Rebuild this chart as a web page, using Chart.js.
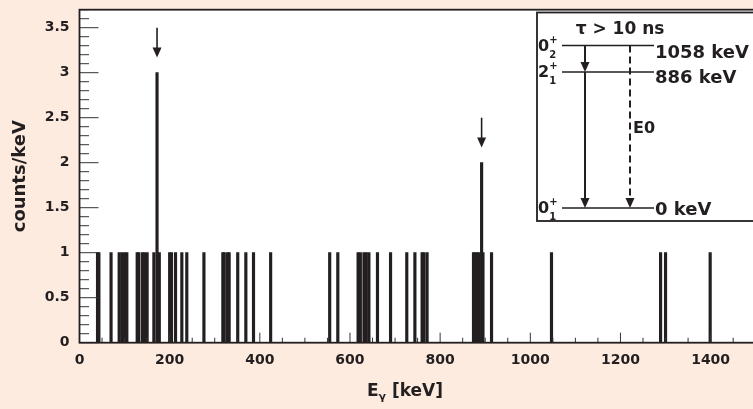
<!DOCTYPE html>
<html lang="en">
<head>
<meta charset="UTF-8">
<title>Gamma-ray spectrum</title>
<script src="https://cdn.jsdelivr.net/npm/chart.js"></script>
<style>
  html, body { margin: 0; padding: 0; background: #fdebdf; overflow: hidden; }
  #wrap { width: 753px; height: 409px; overflow: hidden; }
  canvas { display: block; }
</style>
</head>
<body>
<div id="wrap"><canvas id="spec" width="757" height="409"></canvas></div>
<script>
  // single events, 1 keV bins
  const energies = [40, 43, 70, 88, 94, 100, 105, 128, 131, 139, 144, 150, 165, 172, 177,
    200, 204, 213, 227, 238, 276, 318, 321, 328, 332, 351, 369, 386, 424,
    555, 573, 618, 623, 631, 636, 642, 661, 690, 726, 744, 760, 764, 771,
    874, 877, 882, 886, 892, 895, 914, 1047, 1289, 1300, 1399];
  const counts = energies.map(e => e === 172 ? 3 : e === 892 ? 2 : 1);
  // transitions marked with an arrow
  const markedPeaks = [172, 892];

  const xMajor = [0, 200, 400, 600, 800, 1000, 1200, 1400];
  const yMajor = [0, 0.5, 1, 1.5, 2, 2.5, 3, 3.5];

  // level scheme for the inset
  const levels = [
    { spin: '0', idx: '2', energy: 1058, label: '1058 keV', dy: 12 },
    { spin: '2', idx: '1', energy: 886, label: '886 keV', dy: 11 },
    { spin: '0', idx: '1', energy: 0, label: '0 keV', dy: 7 }
  ];

  const ink = '#231f20';
  const family = 'DejaVu Sans';
  const bold = size => `bold ${size}px "${family}"`;

  function seg(ctx, x1, y1, x2, y2) {
    ctx.beginPath(); ctx.moveTo(x1, y1); ctx.lineTo(x2, y2); ctx.stroke();
  }
  function head(ctx, x, tipY, w, h) {
    ctx.beginPath();
    ctx.moveTo(x, tipY);
    ctx.lineTo(x - w / 2, tipY - h);
    ctx.lineTo(x + w / 2, tipY - h);
    ctx.closePath();
    ctx.fill();
  }

  const paper = {
    id: 'paper',
    beforeDraw(chart) {
      const { ctx, chartArea: a } = chart;
      ctx.save();
      ctx.fillStyle = '#fdebdf';
      ctx.fillRect(0, 0, chart.width, chart.height);
      ctx.fillStyle = '#ffffff';
      ctx.fillRect(a.left, a.top, a.right - a.left, a.bottom - a.top);
      ctx.restore();
    },
    afterDraw(chart) {
      // x-axis title with subscript
      const ctx = chart.ctx;
      ctx.save();
      ctx.fillStyle = ink;
      ctx.textBaseline = 'alphabetic';
      const big = bold(17), small = bold(11);
      ctx.font = big; const wE = ctx.measureText('E').width;
      const wR = ctx.measureText(' [keV]').width;
      ctx.font = small; const wG = ctx.measureText('γ').width;
      let x = 405 - (wE + wG + wR) / 2;
      const base = 396;
      ctx.font = big; ctx.fillText('E', x, base); x += wE;
      ctx.font = small; ctx.fillText('γ', x, base + 4); x += wG;
      ctx.font = big; ctx.fillText(' [keV]', x, base);
      ctx.restore();
    }
  };

  const frame = {
    id: 'frame',
    afterDatasetsDraw(chart) {
      const { ctx, chartArea: a, scales: { x, y } } = chart;
      ctx.save();
      ctx.strokeStyle = '#333333';
      ctx.lineWidth = 1;
      for (let v = 0; v <= 1500; v += 50) {
        const px = x.getPixelForValue(v);
        seg(ctx, px, a.bottom, px, a.bottom - (v % 200 === 0 ? 10 : 5));
      }
      for (let i = 0; i <= 37; i++) {
        const py = y.getPixelForValue(i / 10);
        seg(ctx, a.left, py, a.left + (i % 5 === 0 ? 19 : 9.5), py);
      }
      ctx.strokeStyle = ink;
      ctx.lineWidth = 1.8;
      ctx.strokeRect(a.left, a.top, a.right - a.left, a.bottom - a.top);

      // arrows above the marked lines
      ctx.fillStyle = ink;
      ctx.lineWidth = 1.6;
      markedPeaks.forEach(e => {
        const c = counts[energies.indexOf(e)];
        const px = x.getPixelForValue(e);
        const top = y.getPixelForValue(c + 0.5);
        const tip = y.getPixelForValue(c + 0.17);
        seg(ctx, px, top, px, tip - 8);
        head(ctx, px, tip, 9, 10);
      });
      ctx.restore();
    }
  };

  const scheme = {
    id: 'scheme',
    afterDraw(chart) {
      const ctx = chart.ctx;
      const box = { l: 537, t: 12.5, r: 775, b: 221 };
      const lvlY = e => 208 - e * 0.1535;
      ctx.save();
      ctx.fillStyle = '#ffffff';
      ctx.fillRect(box.l, box.t, box.r - box.l, box.b - box.t);
      ctx.strokeStyle = ink;
      ctx.lineWidth = 1.8;
      ctx.strokeRect(box.l, box.t, box.r - box.l, box.b - box.t);

      ctx.fillStyle = ink;
      ctx.textBaseline = 'alphabetic';
      ctx.textAlign = 'center';
      ctx.font = bold(17);
      ctx.fillText('τ > 10 ns', 620, 33.5);

      ctx.textAlign = 'left';
      ctx.lineWidth = 1.5;
      levels.forEach(l => {
        const ly = lvlY(l.energy);
        seg(ctx, 562, ly, 654, ly);
        ctx.font = bold(16);
        ctx.fillText(l.spin, 538, ly + 5);
        const w = ctx.measureText(l.spin).width;
        ctx.font = bold(10);
        ctx.fillText('+', 538 + w, ly - 3);
        ctx.fillText(l.idx, 538 + w, ly + 12);
        ctx.font = bold(18);
        ctx.fillText(l.label, 655, ly + l.dy);
      });

      // 172 keV and 886 keV cascade
      const yTop = lvlY(levels[0].energy), yMid = lvlY(levels[1].energy), yGs = lvlY(levels[2].energy);
      ctx.lineWidth = 2;
      seg(ctx, 585, yTop, 585, yMid - 8);
      head(ctx, 585, yMid, 9, 10);
      seg(ctx, 585, yMid, 585, yGs - 8);
      head(ctx, 585, yGs, 9, 10);

      // E0 branch
      ctx.setLineDash([7, 4]);
      seg(ctx, 630, yTop, 630, yGs - 9);
      ctx.setLineDash([]);
      head(ctx, 630, yGs, 9, 10);
      ctx.font = bold(16);
      ctx.fillText('E0', 633, 133);
      ctx.restore();
    }
  };

  new Chart(document.getElementById('spec'), {
    type: 'bar',
    data: {
      datasets: [{
        data: energies.map((e, i) => ({ x: e, y: counts[i] })),
        backgroundColor: ink,
        borderWidth: 0,
        barThickness: 2.5,
        grouped: false
      }]
    },
    options: {
      responsive: false,
      animation: false,
      devicePixelRatio: 1,
      layout: { padding: { top: 9.7, right: 1.3, left: 0, bottom: 0 } },
      plugins: { legend: { display: false }, tooltip: { enabled: false } },
      scales: {
        x: {
          type: 'linear', min: 0, max: 1500, offset: false,
          grid: { display: false, drawTicks: false, offset: false },
          border: { display: false },
          afterBuildTicks: s => { s.ticks = xMajor.map(v => ({ value: v })); },
          afterFit: s => { s.height = 66.3; s.paddingLeft = 0; s.paddingRight = 0; },
          ticks: { padding: 9, color: ink, autoSkip: false, maxRotation: 0,
                   callback: v => String(v),
                   font: { family, size: 14, weight: 'bold' } }
        },
        y: {
          min: 0, max: 3.7,
          grid: { display: false, drawTicks: false },
          border: { display: false },
          afterBuildTicks: s => { s.ticks = yMajor.map(v => ({ value: v })); },
          afterFit: s => { s.width = 79.5; s.paddingTop = 0; s.paddingBottom = 0; },
          ticks: { padding: 10, color: ink, callback: v => String(v),
                   font: { family, size: 14, weight: 'bold' } },
          title: { display: true, text: 'counts/keV', color: ink,
                   padding: { top: 10, bottom: 0 },
                   font: { family, size: 18, weight: 'bold' } }
        }
      }
    },
    plugins: [paper, frame, scheme]
  });
</script>
</body>
</html>
